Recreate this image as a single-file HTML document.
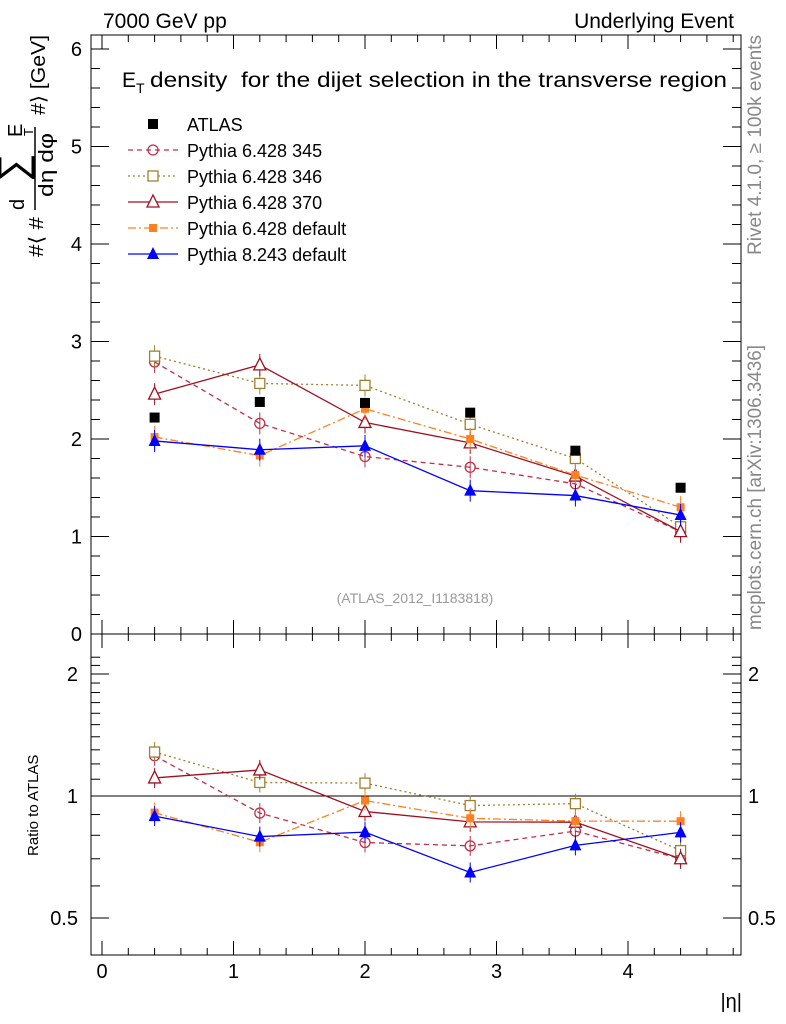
<!DOCTYPE html>
<html><head><meta charset="utf-8"><style>
body{margin:0;background:#fff;}
svg{display:block;font-family:"Liberation Sans",sans-serif;}
</style></head><body>
<svg id="s" width="786" height="1024" xmlns="http://www.w3.org/2000/svg">
<rect width="786" height="1024" fill="#fff"/>
<text x="103" y="28" font-size="21">7000 GeV pp</text>
<text x="734" y="28" font-size="21" text-anchor="end">Underlying Event</text>
<text x="122" y="87" font-size="21">E<tspan font-size="14" dy="6">T</tspan></text>
<text x="150" y="87" font-size="21" textLength="577" lengthAdjust="spacingAndGlyphs" xml:space="preserve">density  for the dijet selection in the transverse region</text>
<text x="415" y="603" font-size="14" fill="#999" text-anchor="middle">(ATLAS_2012_I1183818)</text>
<text transform="translate(761,255) rotate(-90)" font-size="19" fill="#888" textLength="220" lengthAdjust="spacingAndGlyphs">Rivet 4.1.0, ≥ 100k events</text>
<text transform="translate(761,630) rotate(-90)" font-size="19" fill="#888" textLength="285" lengthAdjust="spacingAndGlyphs">mcplots.cern.ch [arXiv:1306.3436]</text>
<g font-size="20">
<text transform="translate(43,257) rotate(-90)" textLength="40" lengthAdjust="spacingAndGlyphs">#⟨ #</text>
<text transform="translate(53,197) rotate(-90)" textLength="64" lengthAdjust="spacingAndGlyphs">dη dφ</text>
<line x1="35" y1="127" x2="35" y2="210" stroke="#000" stroke-width="1.5"/>
<text transform="translate(24,210) rotate(-90)">d</text>
<text transform="translate(26,182) rotate(-90)" font-size="40">∑</text>
<text transform="translate(22,137) rotate(-90)">E</text>
<text transform="translate(33,136) rotate(-90)" font-size="13">T</text>
<text transform="translate(45,115) rotate(-90)" textLength="80" lengthAdjust="spacingAndGlyphs">#⟩ [GeV]</text>
</g>
<text transform="translate(38,856) rotate(-90)" font-size="15">Ratio to ATLAS</text>
<text x="742" y="1008" font-size="20" text-anchor="end">|η|</text>
<g id="g"></g>
</svg>
<script>
const g=document.getElementById('g');let h='';
const X=v=>102+131.5*v, YT=v=>634-97.5*v, YR=r=>796-122*Math.log2(r);
const L=91,R=741;
h+=`<rect x="${L}" y="35" width="${R-L}" height="599" fill="none" stroke="#000"/>`;
h+=`<rect x="${L}" y="634" width="${R-L}" height="321" fill="none" stroke="#000"/>`;
for(let v=0;v<=4.85;v+=0.2){const x=X(v);const maj=Math.abs(v-Math.round(v))<1e-6;const l=maj?14:7;
 h+=`<line x1="${x}" y1="634" x2="${x}" y2="${634-l}" stroke="#000"/><line x1="${x}" y1="35" x2="${x}" y2="${35+l}" stroke="#000"/>`;
 h+=`<line x1="${x}" y1="955" x2="${x}" y2="${955-l}" stroke="#000"/><line x1="${x}" y1="634" x2="${x}" y2="${634+l}" stroke="#000"/>`;
 if(maj)h+=`<text x="${x}" y="978" font-size="20" text-anchor="middle">${Math.round(v)}</text>`;}
for(let v=0;v<=6.15;v+=0.2){const y=YT(v);const maj=Math.abs(v-Math.round(v))<1e-6;const l=maj?18:9;
 h+=`<line x1="${L}" y1="${y}" x2="${L+l}" y2="${y}" stroke="#000"/><line x1="${R}" y1="${y}" x2="${R-l}" y2="${y}" stroke="#000"/>`;
 if(maj)h+=`<text x="82" y="${y+7}" font-size="20" text-anchor="end">${Math.round(v)}</text>`;}
for(let r=0.4;r<=2.3;r+=0.1){const y=YR(r);if(y<634||y>955)continue;const maj=[0.5,1,2].some(m=>Math.abs(m-r)<1e-6);const l=maj?18:9;
 h+=`<line x1="${L}" y1="${y}" x2="${L+l}" y2="${y}" stroke="#000"/><line x1="${R}" y1="${y}" x2="${R-l}" y2="${y}" stroke="#000"/>`;
 if(maj){const t=r<0.9?'0.5':Math.round(r);h+=`<text x="78" y="${y+7}" font-size="20" text-anchor="end">${t}</text><text x="748" y="${y+7}" font-size="20">${t}</text>`;}}
h+=`<line x1="${L}" y1="796" x2="${R}" y2="796" stroke="#000"/>`;
const xs=[0.4,1.2,2.0,2.8,3.6,4.4];
const atlas=[2.22,2.38,2.37,2.27,1.88,1.50];
const S=[
 {n:'Pythia 6.428 345',c:'#c0304a',d:'5,4',m:'oc',v:[2.79,2.16,1.82,1.71,1.54,1.05]},
 {n:'Pythia 6.428 346',c:'#a08030',d:'2,3',m:'os',v:[2.85,2.57,2.55,2.15,1.80,1.10]},
 {n:'Pythia 6.428 370',c:'#a01020',d:'',m:'ot',v:[2.46,2.76,2.17,1.96,1.62,1.05]},
 {n:'Pythia 6.428 default',c:'#ff8020',d:'8,3,2,3',m:'fs',v:[2.02,1.83,2.31,2.00,1.63,1.30]},
 {n:'Pythia 8.243 default',c:'#0000ff',d:'',m:'ft',v:[1.98,1.89,1.93,1.47,1.42,1.22]}];
function mk(m,x,y,c){
 if(m=='oc')return `<circle cx="${x}" cy="${y}" r="5" fill="none" stroke="${c}" stroke-width="1.3"/>`;
 if(m=='os')return `<rect x="${x-5}" y="${y-5}" width="10" height="10" fill="#fff" stroke="${c}" stroke-width="1.3"/>`;
 if(m=='fs')return `<rect x="${x-4}" y="${y-4}" width="8" height="8" fill="${c}"/>`;
 if(m=='ot')return `<polygon points="${x},${y-7} ${x-6},${y+5} ${x+6},${y+5}" fill="#fff" stroke="${c}" stroke-width="1.3"/>`;
 if(m=='ft')return `<polygon points="${x},${y-7} ${x-6},${y+5} ${x+6},${y+5}" fill="${c}"/>`;}
S.forEach(s=>{
 const pt=s.v.map((v,i)=>[X(xs[i]),YT(v)]), pr=s.v.map((v,i)=>[X(xs[i]),YR(v/atlas[i])]);
 [pt,pr].forEach((p,k)=>{
  h+=`<polyline points="${p.map(a=>a.join(',')).join(' ')}" fill="none" stroke="${s.c}" stroke-width="1.3" stroke-dasharray="${s.d}"/>`;
  p.forEach(a=>{const e=k?10:11;h+=`<line x1="${a[0]}" y1="${a[1]-e}" x2="${a[0]}" y2="${a[1]+e}" stroke="${s.c}"/>`;h+=mk(s.m,a[0],a[1],s.c);});
 });});
atlas.forEach((v,i)=>{const x=X(xs[i]),y=YT(v);h+=`<rect x="${x-5}" y="${y-5}" width="10" height="10" fill="#000"/>`;});
const ly=[124,150,176,202,228,254];
h+=`<rect x="148" y="${ly[0]-5}" width="10" height="10" fill="#000"/><text x="187" y="${ly[0]+7}" font-size="18">ATLAS</text>`;
S.forEach((s,i)=>{const y=ly[i+1];h+=`<line x1="128" y1="${y}" x2="178" y2="${y}" stroke="${s.c}" stroke-width="1.3" stroke-dasharray="${s.d}"/>`+mk(s.m,153,y,s.c)+`<text x="187" y="${y+7}" font-size="18">${s.n}</text>`;});
g.innerHTML=h;
</script>
</body></html>
